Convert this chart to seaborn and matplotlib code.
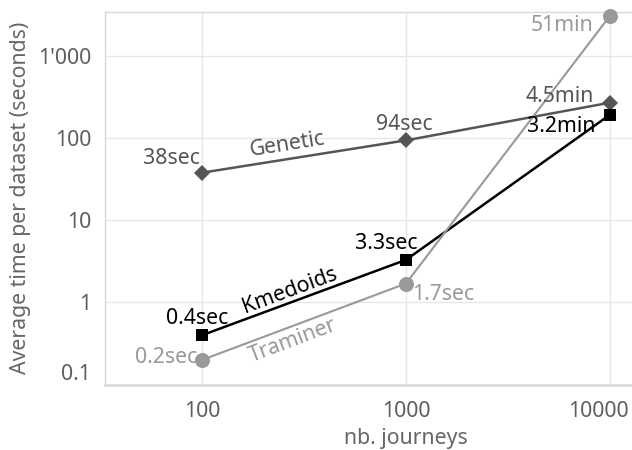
import math
import numpy as np
import pandas as pd
import seaborn as sns
import matplotlib
matplotlib.use("Agg")
import matplotlib.pyplot as plt
import matplotlib.transforms as mtrans
from matplotlib.ticker import FixedLocator, FuncFormatter, LogLocator, NullFormatter

# Runtime per dataset, in seconds, for each clustering method
journeys = [100, 1000, 10000]
genetic_sec = [38, 94, 270]
kmedoids_sec = [0.4, 3.3, 192]
traminer_sec = [0.2, 1.7, 3060]

genetic_text = ["38sec", "94sec", "4.5min"]
kmedoids_text = ["0.4sec", "3.3sec", "3.2min"]
traminer_text = ["0.2sec", "1.7sec", "51min"]

y_ticks = [0.1, 1, 10, 100, 1000]
x_ticks = [100, 1000, 10000]

sns.set_style("white")
plt.rcParams["font.family"] = ["Noto Sans", "DejaVu Sans"]

FS = 15.3
TICK_C = "#5e5e5e"
TITLE_C = "#666666"
GRID_C = "#e6e6e6"
AXIS_C = "#d9d9d9"

fig = plt.figure(figsize=(6.32, 4.5), dpi=100)
ax = fig.add_axes([0.1661, 0.1453, 0.9525, 0.828])
ax.set_xscale("log")
ax.set_yscale("log")
ax.set_xlim(1000 / 30, 30000)
ax.set_ylim(0.1, 3430)

series = [
    ("Genetic", genetic_sec, genetic_text, "#555555", "D", 7.9, 1.8),
    ("Kmedoids", kmedoids_sec, kmedoids_text, "#000000", "s", 8.4, 1.8),
    ("Traminer", traminer_sec, traminer_text, "#999999", "o", 10.8, 1.5),
]

for name, vals, _, col, mk, ms, lw in series:
    df = pd.DataFrame({"journeys": journeys, "seconds": vals})
    sns.lineplot(data=df, x="journeys", y="seconds", color=col, marker=mk,
                 markersize=ms, markeredgewidth=0, linewidth=lw, ax=ax,
                 legend=False, zorder=3, clip_on=False)

# Axes styling
ax.xaxis.set_major_locator(FixedLocator(x_ticks))
ax.xaxis.set_minor_locator(FixedLocator([]))
ax.xaxis.set_major_formatter(FuncFormatter(lambda v, p: f"{int(v)}"))
ax.yaxis.set_major_locator(FixedLocator(y_ticks))
ax.yaxis.set_minor_locator(LogLocator(base=10, subs=np.arange(2, 10)))
ax.yaxis.set_minor_formatter(NullFormatter())


def fmt_y(v, p):
    if v >= 1:
        return f"{int(round(v)):,}".replace(",", "'")
    return f"{v:g}"


ax.yaxis.set_major_formatter(FuncFormatter(fmt_y))

ax.grid(True, which="major", color=GRID_C, linewidth=1.0, zorder=0)
ax.tick_params(axis="both", which="major", length=7, width=1, color=AXIS_C,
               labelsize=FS, labelcolor=TICK_C, pad=3, direction="out")
ax.tick_params(axis="x", which="major", pad=5)
ax.tick_params(axis="y", which="minor", length=3.6, width=1, color=AXIS_C,
               direction="out")
for side in ["left", "top"]:
    ax.spines[side].set_color(AXIS_C)
    ax.spines[side].set_linewidth(1.0)
ax.spines["bottom"].set_color(AXIS_C)
ax.spines["bottom"].set_linewidth(1.8)
ax.spines["right"].set_visible(False)

ax.set_xlabel("nb. journeys", fontsize=FS, color=TITLE_C, labelpad=4)
ax.set_ylabel("Average time per dataset (seconds)", fontsize=FS,
              color=TITLE_C, labelpad=5)

# Keep the end labels inside the canvas: lowest y label sits above the
# bottom axis, the last x label is pulled back from the right edge
fig.canvas.draw()
ax.get_yticklabels()[0].set_verticalalignment("bottom")
last = ax.get_xticklabels()[-1]
last.set_horizontalalignment("right")
last.set_transform(last.get_transform() +
                   mtrans.ScaledTranslation(19 / 100, 0, fig.dpi_scale_trans))

# Value labels next to each point (offsets in points)
offsets = {
    "Genetic": [(-2, 10, "right"), (-1.5, 11.5, "center"), (-11.5, 4.3, "right")],
    "Kmedoids": [(-3.6, 12, "center"), (8, 11.5, "right"), (-10, -8.6, "right")],
    "Traminer": [(-3.6, 1.4, "right"), (4.3, -8, "left"), (-11.5, -7, "right")],
}
for name, vals, texts, col, *_ in series:
    for x, v, t, (dx, dy, ha) in zip(journeys, vals, texts, offsets[name]):
        ax.annotate(t, (x, v), xytext=(dx, dy), textcoords="offset points",
                    ha=ha, va="center", fontsize=FS, color=col, zorder=5)

# Method names written along the first segment of each line
name_pos = {"Genetic": (0.43, 10), "Kmedoids": (0.45, 8), "Traminer": (0.42, -10)}
for name, vals, _, col, *_ in series:
    t, d = name_pos[name]
    p0 = ax.transData.transform((journeys[0], vals[0]))
    p1 = ax.transData.transform((journeys[1], vals[1]))
    ang = math.atan2(p1[1] - p0[1], p1[0] - p0[0])
    lx = 10 ** (math.log10(journeys[0]) + t * (math.log10(journeys[1]) - math.log10(journeys[0])))
    ly = 10 ** (math.log10(vals[0]) + t * (math.log10(vals[1]) - math.log10(vals[0])))
    ox, oy = -d * math.sin(ang), d * math.cos(ang)
    ax.annotate(name, (lx, ly), xytext=(ox, oy), textcoords="offset points",
                ha="center", va="center", rotation=math.degrees(ang),
                rotation_mode="anchor", fontsize=FS, color=col, zorder=5)

fig.savefig("out.png", dpi=100)
